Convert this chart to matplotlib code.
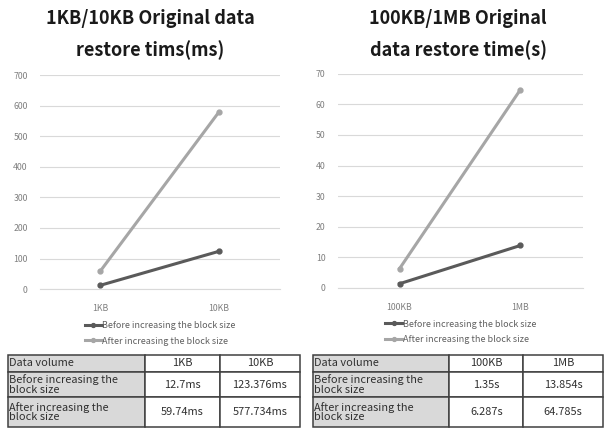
import matplotlib.pyplot as plt
import numpy as np

plt.rcParams['font.family'] = ['Noto Sans CJK KR', 'DejaVu Sans']

# data
left_cats = ["1KB", "10KB"]
left_before = [12.7, 123.376]
left_after = [59.74, 577.734]
left_before_txt = ["12.7ms", "123.376ms"]
left_after_txt = ["59.74ms", "577.734ms"]

right_cats = ["100KB", "1MB"]
right_before = [1.35, 13.854]
right_after = [6.287, 64.785]
right_before_txt = ["1.35s", "13.854s"]
right_after_txt = ["6.287s", "64.785s"]

series_names = ["Before increasing the block size", "After increasing the block size"]
row_names = ["Data volume", "Before increasing the\nblock size", "After increasing the\nblock size"]

DARK = "#5a5a5a"
LIGHT = "#a6a6a6"


def draw_chart(ax, cats, before, after, ymax, step, title, title_x):
    x = np.arange(len(cats))
    ax.plot(x, before, color=DARK, lw=2.2, marker="o", ms=3.5, label=series_names[0])
    ax.plot(x, after, color=LIGHT, lw=2.2, marker="o", ms=3.5, label=series_names[1])
    ax.set_xlim(-0.51, 1.52)
    ax.set_ylim(0, ymax)
    ax.set_yticks(np.arange(0, ymax + 1, step))
    ax.set_xticks(x)
    ax.set_xticklabels(cats)
    ax.grid(axis="y", color="#d9d9d9", lw=0.8)
    ax.set_axisbelow(True)
    for s in ax.spines.values():
        s.set_visible(False)
    ax.spines["bottom"].set_visible(True)
    ax.spines["bottom"].set_color("#d9d9d9")
    ax.tick_params(length=0, labelsize=6.3, labelcolor="#808080", pad=9)
    ax.tick_params(axis="x", pad=11)
    ax.legend(loc="upper center", bbox_to_anchor=(0.5, -0.11), frameon=False,
              fontsize=6.5, labelcolor="#606060", handlelength=1.9,
              handletextpad=0.05, labelspacing=0.75, markerscale=0.8)
    fig.text(title_x, 0.978, title, ha="center", va="top", fontsize=13,
             fontweight="bold", linespacing=1.72, color="#1a1a1a")


def draw_table(tax, cats, before_txt, after_txt):
    tax.axis("off")
    cells = [[row_names[0]] + cats,
             [row_names[1]] + before_txt,
             [row_names[2]] + after_txt]
    heights = [17, 25, 30]
    widths = [0.47, 0.255, 0.275]
    total_h = sum(heights)
    y = 1.0
    for r, row in enumerate(cells):
        h = heights[r] / total_h
        y -= h
        xx = 0.0
        for c, txt in enumerate(row):
            w = widths[c]
            face = "#d9d9d9" if c == 0 else "white"
            tax.add_patch(plt.Rectangle((xx, y), w, h, facecolor=face,
                                        edgecolor="#404040", lw=1.1,
                                        transform=tax.transAxes, clip_on=False))
            if c == 0:
                tax.text(xx + 0.004, y + h / 2, txt, ha="left", va="center",
                         fontsize=7.9, color="#303030", linespacing=0.92,
                         transform=tax.transAxes)
            else:
                tax.text(xx + w / 2, y + h / 2, txt, ha="center", va="center",
                         fontsize=7.9, color="#303030", transform=tax.transAxes)
            xx += w


fig = plt.figure(figsize=(6.1, 4.29), dpi=100)

ax1 = fig.add_axes([0.066, 0.326, 0.393, 0.499])
draw_chart(ax1, left_cats, left_before, left_after, 700, 100,
           "1KB/10KB Original data\nrestore tims(ms)", 0.246)

ax2 = fig.add_axes([0.554, 0.329, 0.402, 0.499])
draw_chart(ax2, right_cats, right_before, right_after, 70, 10,
           "100KB/1MB Original\ndata restore time(s)", 0.751)

t1 = fig.add_axes([8 / 610, 1 - 427 / 429, 292 / 610, 72 / 429])
draw_table(t1, left_cats, left_before_txt, left_after_txt)

t2 = fig.add_axes([313 / 610, 1 - 427 / 429, 290 / 610, 72 / 429])
draw_table(t2, right_cats, right_before_txt, right_after_txt)

fig.savefig("out.png", dpi=100)
